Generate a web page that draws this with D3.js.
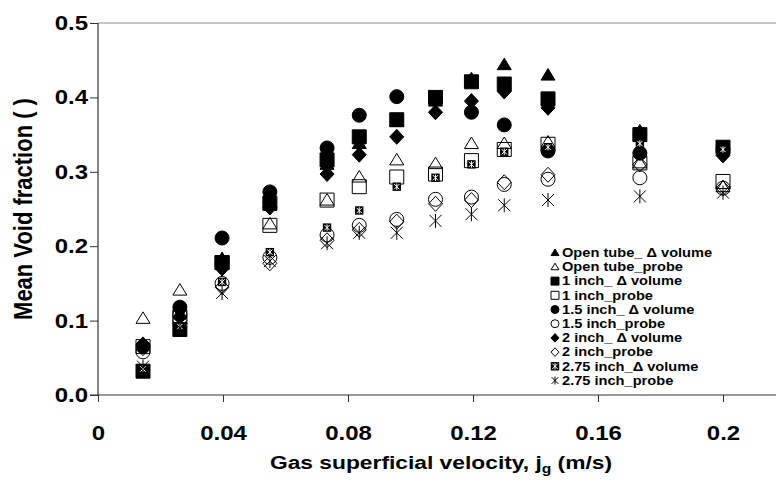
<!DOCTYPE html>
<html>
<head>
<meta charset="utf-8">
<script src="https://cdn.jsdelivr.net/npm/d3@7"></script>
<style>
  body { margin: 0; background: #fff; }
  svg { display: block; font-family: "Liberation Sans", Arial, sans-serif; font-weight: bold; }
</style>
</head>
<body>
<div id="chart"></div>
<script>
// gas superficial velocity, m/s
const jg = [0.0144, 0.0262, 0.0397, 0.055, 0.0733, 0.0836, 0.0956, 0.108, 0.1195, 0.130, 0.144, 0.1734, 0.2];

const openTubeVol   = [0.068, 0.110, 0.183, 0.255, 0.310, 0.338, 0.368, 0.395, 0.425, 0.444, 0.430, 0.355, 0.333];
const openTubeProbe = [0.103, 0.141, 0.183, 0.230, 0.262, 0.293, 0.316, 0.311, 0.338, 0.338, 0.340, 0.312, 0.280];
const inch1Vol      = [0.032, 0.088, 0.178, 0.258, 0.316, 0.347, 0.370, 0.400, 0.421, 0.418, 0.398, 0.350, 0.333];
const inch1Probe    = [0.065, 0.105, 0.178, 0.228, 0.262, 0.280, 0.293, 0.297, 0.315, 0.330, 0.337, 0.312, 0.287];
const inch15Vol     = [0.065, 0.118, 0.211, 0.273, 0.332, 0.376, 0.401, 0.398, 0.380, 0.363, 0.328, 0.325, 0.330];
const inch15Probe   = [0.058, 0.108, 0.150, 0.185, 0.215, 0.228, 0.236, 0.263, 0.266, 0.283, 0.290, 0.292, 0.278];
const inch2Vol      = [0.068, 0.105, 0.170, 0.252, 0.297, 0.323, 0.347, 0.380, 0.395, 0.408, 0.386, 0.352, 0.322];
const inch2Probe    = [0.063, 0.100, 0.145, 0.177, 0.208, 0.222, 0.233, 0.257, 0.262, 0.286, 0.296, 0.310, 0.278];
const inch275Vol    = [0.035, 0.092, 0.152, 0.192, 0.225, 0.248, 0.280, 0.292, 0.310, 0.327, 0.333, 0.338, 0.330];
const inch275Probe  = [0.038, 0.090, 0.137, 0.180, 0.204, 0.218, 0.218, 0.234, 0.243, 0.255, 0.262, 0.267, 0.272];

const seriesNames = ["Open tube_ Δ volume", "Open tube_probe", "1 inch_ Δ volume", "1 inch_probe",
  "1.5 inch_ Δ volume", "1.5 inch_probe", "2 inch_ Δ volume", "2 inch_probe",
  "2.75 inch_Δ volume", "2.75 inch_probe"];
const seriesValues = [openTubeVol, openTubeProbe, inch1Vol, inch1Probe, inch15Vol, inch15Probe,
  inch2Vol, inch2Probe, inch275Vol, inch275Probe];
const seriesShapes = ["triangle", "triangle", "square", "square", "circle", "circle",
  "diamond", "diamond", "hatch", "asterisk"];
const seriesFilled = [true, false, true, false, true, false, true, false, true, false];

const xTicks = [0, 0.04, 0.08, 0.12, 0.16, 0.2];
const xTickLabels = ["0", "0.04", "0.08", "0.12", "0.16", "0.2"];
const yTicks = [0, 0.1, 0.2, 0.3, 0.4, 0.5];
const yTickLabels = ["0.0", "0.1", "0.2", "0.3", "0.4", "0.5"];

const width = 776, height = 488;
const stretch = 1.2; // the original text is a bit wide

const svg = d3.select("#chart").append("svg")
  .attr("width", width)
  .attr("height", height);

const x = d3.scaleLinear().domain([0, (776 - 98) / 3125]).range([98, 776]);
const y = d3.scaleLinear().domain([0, 0.5]).range([395, 23]);

// marker outline, s scales it (1 = plot size)
function shapePath(shape, s) {
  const p = d3.path();
  if (shape === "triangle") {
    p.moveTo(0, -6.5 * s); p.lineTo(7 * s, 5 * s); p.lineTo(-7 * s, 5 * s); p.closePath();
  } else if (shape === "square") {
    p.rect(-7 * s, -7 * s, 14 * s, 14 * s);
  } else if (shape === "circle") {
    p.moveTo(7 * s, 0); p.arc(0, 0, 7 * s, 0, 2 * Math.PI);
  } else if (shape === "diamond") {
    p.moveTo(0, -7.5 * s); p.lineTo(7 * s, 0); p.lineTo(0, 7.5 * s); p.lineTo(-7 * s, 0); p.closePath();
  } else if (shape === "asterisk") {
    p.moveTo(0, -7 * s); p.lineTo(0, 7 * s);
    p.moveTo(-6 * s, -6 * s); p.lineTo(6 * s, 6 * s);
    p.moveTo(6 * s, -6 * s); p.lineTo(-6 * s, 6 * s);
  }
  return p.toString();
}

function drawMarker(g, shape, filled, s) {
  if (shape === "hatch") {
    // small black square with a white cross pattern
    const h = 4.2;
    g.append("rect").attr("x", -h).attr("y", -h).attr("width", 2 * h).attr("height", 2 * h)
      .attr("fill", "#000");
    g.append("path")
      .attr("d", `M${-h + 1.5},${-h + 1.5}L${h - 1.5},${h - 1.5}M${h - 1.5},${-h + 1.5}L${-h + 1.5},${h - 1.5}M0,${-h + 1}V${h - 1}`)
      .attr("stroke", "#fff").attr("stroke-width", 1).attr("fill", "none");
    return;
  }
  g.append("path")
    .attr("d", shapePath(shape, s))
    .attr("fill", filled ? "#000" : "none")
    .attr("stroke", "#000")
    .attr("stroke-width", 1);
}

// frame + axes
svg.append("line").attr("x1", 98).attr("x2", 776).attr("y1", 23).attr("y2", 23)
  .attr("stroke", "#8a8a8a").attr("stroke-width", 1.2);

const xAxis = svg.append("g")
  .attr("transform", "translate(0,395)")
  .call(d3.axisBottom(x).tickValues(xTicks).tickSize(7).tickFormat((d, i) => xTickLabels[i]));
xAxis.select(".domain").remove();
xAxis.selectAll(".tick line").attr("stroke", "#333");
xAxis.selectAll(".tick text")
  .attr("y", 45).attr("dy", 0)
  .attr("transform", `scale(${stretch},1)`)
  .attr("font-size", 20).attr("font-family", "Liberation Sans, Arial, sans-serif")
  .attr("font-weight", "bold").attr("fill", "#000");

const yAxis = svg.append("g")
  .attr("transform", "translate(98,0)")
  .call(d3.axisLeft(y).tickValues(yTicks).tickSize(8).tickFormat((d, i) => yTickLabels[i]));
yAxis.select(".domain").remove();
yAxis.selectAll(".tick line").attr("stroke", "#333");
yAxis.selectAll(".tick text")
  .attr("x", -10 / stretch)
  .attr("transform", `scale(${stretch},1)`)
  .attr("font-size", 20).attr("font-family", "Liberation Sans, Arial, sans-serif")
  .attr("font-weight", "bold").attr("fill", "#000");

svg.append("line").attr("x1", 98).attr("x2", 98).attr("y1", 23).attr("y2", 395)
  .attr("stroke", "#333").attr("stroke-width", 1.2);
svg.append("line").attr("x1", 90).attr("x2", 776).attr("y1", 395).attr("y2", 395)
  .attr("stroke", "#333").attr("stroke-width", 1.2);

// axis titles
const xTitle = svg.append("text")
  .attr("transform", `translate(441,469) scale(${stretch},1)`)
  .attr("text-anchor", "middle")
  .attr("font-size", 19);
xTitle.append("tspan").text("Gas superficial velocity, j");
xTitle.append("tspan").attr("font-size", 13).attr("dy", 4).text("g");
xTitle.append("tspan").attr("dy", -4).text(" (m/s)");

svg.append("text")
  .attr("transform", "translate(32,209) scale(1.15,1) rotate(-90)")
  .attr("text-anchor", "middle")
  .attr("font-size", 22)
  .text("Mean Void fraction ( )");

// data points, drawn in legend order
seriesValues.forEach((vals, si) => {
  const g = svg.append("g").attr("class", "series");
  vals.forEach((v, i) => {
    const m = g.append("g").attr("transform", `translate(${x(jg[i])},${y(v)})`);
    drawMarker(m, seriesShapes[si], seriesFilled[si], 1);
  });
});

// legend
const legend = svg.append("g").attr("class", "legend");
seriesNames.forEach((name, i) => {
  const base = 257 + i * 14.2;
  const m = legend.append("g").attr("transform", `translate(555,${base - 4.3})`);
  drawMarker(m, seriesShapes[i], seriesFilled[i], 0.57);
  legend.append("text")
    .attr("transform", `translate(562,${base}) scale(1.17,1)`)
    .attr("font-size", 12.5)
    .text(name);
});
</script>
</body>
</html>
